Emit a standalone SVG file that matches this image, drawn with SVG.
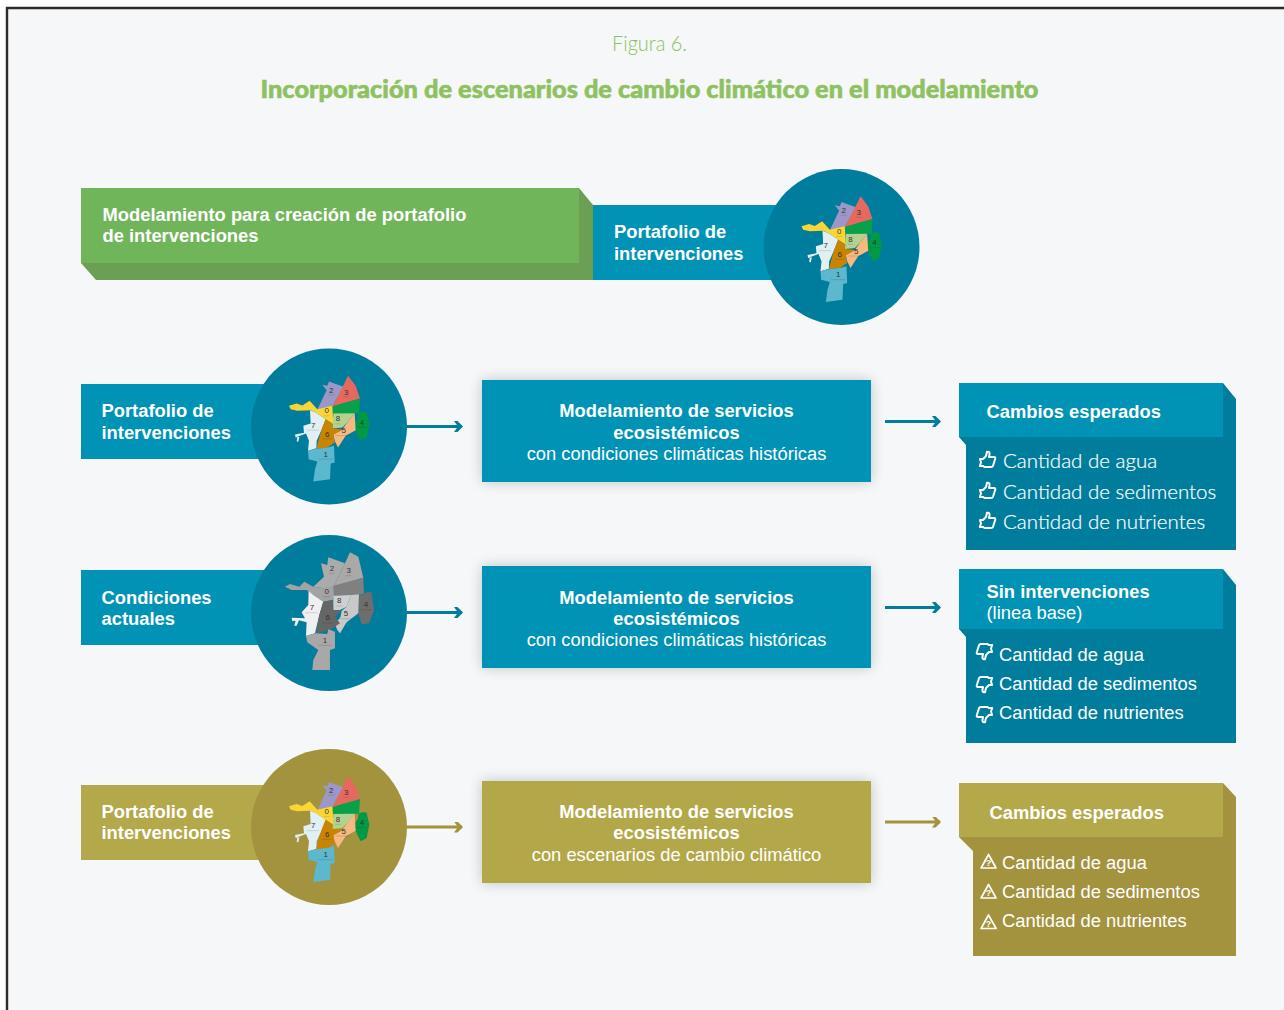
<svg xmlns="http://www.w3.org/2000/svg" width="1284" height="1010" viewBox="0 0 1284 1010">
<style>
text{font-family:"Liberation Sans",Arial,sans-serif;fill:#fff}
.b{font-size:18.35px;font-weight:700}
.r{font-size:18.35px}
.m{text-anchor:middle}
.l{font-family:"Lato","Open Sans",sans-serif;font-weight:300;font-size:20.5px;stroke:#fff;stroke-width:.2}
.blue{fill:#0093b5}.bluedk{fill:#007d9d}
.gold{fill:#b3a84a}.golddk{fill:#a3933f}
.conn{fill:none;stroke-width:3}
.n{font-size:24px;text-anchor:middle;fill:#333}
.tiny{stroke:#222;stroke-width:2;stroke-opacity:.22;fill:none}
.ic{fill:none;stroke:#fff;stroke-width:2;stroke-linejoin:round}
.icw{fill:none;stroke:#fff;stroke-width:1.7;stroke-linejoin:round}
</style>
<defs>
<filter id="sh" x="-15%" y="-30%" width="130%" height="160%"><feGaussianBlur in="SourceAlpha" stdDeviation="7"/><feComponentTransfer><feFuncA type="linear" slope=".22"/></feComponentTransfer><feMerge><feMergeNode/><feMergeNode in="SourceGraphic"/></feMerge></filter>
<marker id="ab" markerUnits="userSpaceOnUse" markerWidth="10" markerHeight="12" refX="8" refY="5.5" orient="auto"><path d="M0 0H3.5L9 5.5L3.5 11H0L4 5.5Z" fill="#007d9d"/></marker>
<marker id="ag" markerUnits="userSpaceOnUse" markerWidth="10" markerHeight="12" refX="8" refY="5.5" orient="auto"><path d="M0 0H3.5L9 5.5L3.5 11H0L4 5.5Z" fill="#a3933f"/></marker>
<g id="up"><path class="ic" d="M1 8H4L7 5L8 .8Q11 0 10.5 3.500L10 6H15.500Q16.800 6.500 16 8.500L14 14.800Q13.500 16 12 16H5.500L4.200 15H.8L2 11.500Z"/></g>
<g id="down"><path class="ic" transform="rotate(180 8.500 8.500)" d="M1 8H4L7 5L8 .8Q11 0 10.500 3.500L10 6H15.500Q16.800 6.500 16 8.500L14 14.800Q13.500 16 12 16H5.500L4.200 15H.8L2 11.500Z"/></g>
<g id="warn"><path class="icw" d="M8 1L15.600 14.500H.6Z"/><text x="8" y="12.600" font-size="9" font-weight="700" text-anchor="middle">?</text></g>
<g id="map-c" transform="scale(.3333) translate(-245 -247)">
<path fill="#9b97c6" d="M225 122L240 125L245 112L288 128L255 187L210 197L232 150L238 138Z"/>
<path fill="#e5695f" d="M302 95L325 125L338 163L255 187L285 130Z"/>
<path fill="#0aa04a" d="M338 163L335 207L258 210L255 187Z"/>
<path fill="#009a44" d="M346 202L358 204L366 240L358 280L340 290L330 270L318 242L332 222L334 207Z"/>
<path fill="#fbd533" d="M125 185L148 178L165 184L187 170L210 195L255 185L258 240L235 225L205 205L190 198L150 200L130 195Z"/>
<path fill="#e2f0f3" d="M188 198L205 205L235 225L222 258L208 290L207 312L182 320L185 290L176 268L150 278L148 292L153 293L156 278L145 280L143 271L170 266L168 245L190 238Z"/>
<path fill="#b5d190" d="M258 208L322 207L300 235L285 250L255 253Z"/>
<path fill="#f6b97f" d="M322 207L325 258L295 275L272 310L262 290L258 270L285 256L300 235Z"/>
<path fill="#c98400" d="M235 225L257 240L255 253L287 256L258 272L262 295L240 310L207 314L222 258Z"/>
<path fill="#5cb8cf" d="M182 320L207 314L240 310L260 305L262 355L250 358L248 405L198 412L203 375L210 352L184 345Z"/>
<text class="n" x="252" y="145">2</text><text class="n" x="297" y="152">3</text><text class="n" x="238" y="208">0</text><text class="n" x="272" y="232">8</text><text class="n" x="344" y="242">4</text><text class="n" x="198" y="251">7</text><text class="n" x="289" y="267">5</text><text class="n" x="240" y="278">6</text><text class="n" x="235" y="338">1</text>
<path class="tiny" d="M243 152h18M288 158h18M229 215h18M264 239h16M326 249h34M178 258h36M265 274h46M224 284h30M213 345h44"/>
</g>
<g id="map-g" transform="scale(.3333) translate(-238 -233)">
<path fill="#ababab" d="M213 85L232 90L235 67L285 85L250 155L222 160L190 155L222 125Z"/>
<path fill="#a9a9a9" d="M300 52L325 65L340 128L250 155L285 85Z"/>
<path fill="#808080" d="M340 128L342 178L250 182L250 152Z"/>
<path fill="#6e6e6e" d="M350 172L365 172L372 225L358 265L335 268L325 235L328 180L342 178Z"/>
<path fill="#a3a3a3" d="M105 155L120 147L148 155L163 140L190 155L222 160L250 152L252 182L248 195L220 200L190 180L170 165L125 165Z"/>
<path fill="#f0f0f0" d="M176 168L190 180L220 200L208 240L195 295L168 303L170 262L147 256L140 272L133 272L137 257L127 258L125 248L165 250L155 232L175 210Z"/>
<path fill="#cfcfcf" d="M250 182L303 180L290 215L270 225L250 225Z"/>
<path fill="#c9c9c9" d="M303 180L327 178L325 235L290 262L270 295L262 285L255 268L272 245L275 228L290 215Z"/>
<path fill="#666" d="M220 200L248 195L250 225L275 228L255 245L270 265L240 285L198 295L208 240Z"/>
<path fill="#a8a8a8" d="M168 303L198 295L232 297L235 283L255 290L255 340L240 345L240 405L187 405L190 375L205 345L172 322Z"/>
<text class="n" x="246" y="107">2</text><text class="n" x="296" y="114">3</text><text class="n" x="230" y="178">0</text><text class="n" x="268" y="205">8</text><text class="n" x="348" y="216">4</text><text class="n" x="186" y="226">7</text><text class="n" x="288" y="243">5</text><text class="n" x="233" y="256">6</text><text class="n" x="225" y="324">1</text>
<path class="tiny" d="M237 115h18M286 122h18M219 185h22M259 213h18M328 224h38M165 233h38M262 251h42M216 264h32M205 331h40"/>
</g>
</defs>

<rect width="1284" height="1010" fill="#fff"/>
<rect x="8" y="9" width="1276" height="1001" fill="#f5f7f9"/>
<path d="M7 1010V8H1284" fill="none" stroke="#2b2b2b" stroke-width="2.4"/>

<g id="title">
<text x="649.500" y="51" text-anchor="middle" font-size="21" font-weight="300" style="font-family:Lato,'Open Sans',sans-serif;fill:#8ec261" textLength="75" lengthAdjust="spacingAndGlyphs">Figura 6.</text>
<text x="649.500" y="98" text-anchor="middle" font-size="25" font-weight="900" stroke="#8ec261" stroke-width=".6" style="font-family:Lato,'Open Sans',sans-serif;fill:#8ec261" textLength="778" lengthAdjust="spacingAndGlyphs">Incorporación de escenarios de cambio climático en el modelamiento</text>
</g>

<g id="connectors">
<path class="conn" stroke="#007d9d" marker-end="url(#ab)" d="M407 426.500H462"/>
<path class="conn" stroke="#007d9d" marker-end="url(#ab)" d="M885 421.500H940"/>
<path class="conn" stroke="#007d9d" marker-end="url(#ab)" d="M407 612.500H462"/>
<path class="conn" stroke="#007d9d" marker-end="url(#ab)" d="M885 607.500H940"/>
<path class="conn" stroke="#a3933f" marker-end="url(#ag)" d="M407 827H462"/>
<path class="conn" stroke="#a3933f" marker-end="url(#ag)" d="M885 822H940"/>
</g>

<g id="node-modelamiento-portafolio">
<path fill="#6ba054" d="M579 188L593 205V280H96L81 263Z"/>
<rect x="81" y="188" width="498" height="75" fill="#71b55b"/>
<text class="b" x="102.500" y="221">Modelamiento para creación de portafolio</text>
<text class="b" x="102.500" y="242">de intervenciones</text>
</g>
<g id="node-portafolio-0">
<rect class="blue" x="593" y="205" width="190" height="75"/>
<circle class="bluedk" cx="841.500" cy="247" r="78"/>
<use href="#map-c" transform="translate(841.500 247)"/>
<text class="b" x="614" y="238">Portafolio de</text>
<text class="b" x="614" y="260">intervenciones</text>
</g>

<g id="node-portafolio-1">
<rect class="blue" x="81" y="384" width="190" height="75"/>
<circle class="bluedk" cx="329" cy="426.500" r="78"/>
<use href="#map-c" transform="translate(329 426.500)"/>
<text class="b" x="101.500" y="417">Portafolio de</text>
<text class="b" x="101.500" y="439">intervenciones</text>
</g>
<g id="node-servicios-1">
<rect class="blue" x="482" y="380" width="389" height="102" filter="url(#sh)"/>
<text class="b m" x="676.500" y="417">Modelamiento de servicios</text>
<text class="b m" x="676.500" y="439">ecosistémicos</text>
<text class="r m" x="676.500" y="460">con condiciones climáticas históricas</text>
</g>
<g id="node-cambios-1">
<path class="bluedk" d="M1223 383L1236 399V550H966V445L959 437Z"/>
<rect class="blue" x="959" y="383" width="264" height="54"/>
<text class="b" x="986.500" y="418">Cambios esperados</text>
<use href="#up" x="979" y="451"/><text class="l" x="1003" y="468">Cantidad de agua</text>
<use href="#up" x="979" y="482"/><text class="l" x="1003" y="499">Cantidad de sedimentos</text>
<use href="#up" x="979" y="512"/><text class="l" x="1003" y="529">Cantidad de nutrientes</text>
</g>

<g id="node-condiciones">
<rect class="blue" x="81" y="570" width="190" height="75"/>
<circle class="bluedk" cx="329" cy="613" r="78"/>
<use href="#map-g" transform="translate(329.300 612.700)"/>
<text class="b" x="101.500" y="604">Condiciones</text>
<text class="b" x="101.500" y="625">actuales</text>
</g>
<g id="node-servicios-2">
<rect class="blue" x="482" y="566" width="389" height="102" filter="url(#sh)"/>
<text class="b m" x="676.500" y="604">Modelamiento de servicios</text>
<text class="b m" x="676.500" y="625">ecosistémicos</text>
<text class="r m" x="676.500" y="646">con condiciones climáticas históricas</text>
</g>
<g id="node-sin-intervenciones">
<path class="bluedk" d="M1223 569L1236 585V743H966V637L959 629Z"/>
<rect class="blue" x="959" y="569" width="264" height="60"/>
<text class="b" x="986.500" y="598">Sin intervenciones</text>
<text class="r" x="986.500" y="619">(linea base)</text>
<use href="#down" x="976" y="643"/><text class="r" x="999" y="661">Cantidad de agua</text>
<use href="#down" x="976" y="676"/><text class="r" x="999" y="690">Cantidad de sedimentos</text>
<use href="#down" x="976" y="706"/><text class="r" x="999" y="719">Cantidad de nutrientes</text>
</g>

<g id="node-portafolio-3">
<rect class="gold" x="81" y="785" width="190" height="75"/>
<circle class="golddk" cx="329" cy="827" r="78"/>
<use href="#map-c" transform="translate(329 827)"/>
<text class="b" x="101.500" y="818">Portafolio de</text>
<text class="b" x="101.500" y="839">intervenciones</text>
</g>
<g id="node-servicios-3">
<rect class="gold" x="482" y="781" width="389" height="102" filter="url(#sh)"/>
<text class="b m" x="676.500" y="818">Modelamiento de servicios</text>
<text class="b m" x="676.500" y="839">ecosistémicos</text>
<text class="r m" x="676.500" y="861">con escenarios de cambio climático</text>
</g>
<g id="node-cambios-3">
<path class="golddk" d="M1223 783L1236 797V956H973V851L959 837Z"/>
<rect class="gold" x="959" y="783" width="264" height="54"/>
<text class="b" x="989.500" y="819">Cambios esperados</text>
<use href="#warn" x="980.500" y="853.500"/><text class="r" x="1002" y="869">Cantidad de agua</text>
<use href="#warn" x="980.500" y="883.500"/><text class="r" x="1002" y="898">Cantidad de sedimentos</text>
<use href="#warn" x="980.500" y="914"/><text class="r" x="1002" y="927">Cantidad de nutrientes</text>
</g>
</svg>
